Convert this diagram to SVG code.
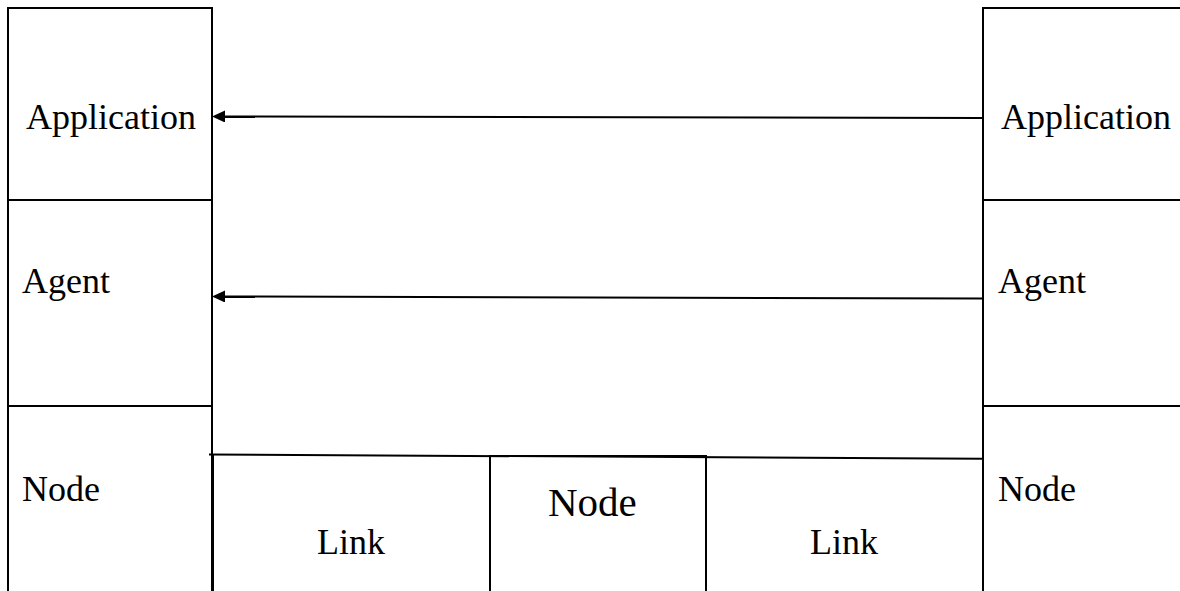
<svg xmlns="http://www.w3.org/2000/svg" width="1180" height="591" viewBox="0 0 1180 591">
  <style>
    .ln { fill: none; stroke: #000; stroke-width: 2; }
    .lbl { font-family: "Liberation Serif", "Times New Roman", serif; font-size: 36px; fill: #000; }
    .big { font-size: 41px; }
  </style>
  <defs>
    <marker id="head" viewBox="0 0 13 12" refX="0" refY="6" markerWidth="13" markerHeight="12" markerUnits="userSpaceOnUse" orient="auto-start-reverse">
      <path d="M0,0 L13,6 L0,12 Z" fill="#000"/>
    </marker>
  </defs>
  <rect width="1180" height="591" fill="#fff"/>

  <!-- left protocol stack -->
  <g id="left-stack">
    <path class="ln" d="M8,591 V8 H212 V591"/>
    <line class="ln" x1="8" y1="200" x2="212" y2="200"/>
    <line class="ln" x1="8" y1="406" x2="212" y2="406"/>
  </g>
  <g id="left-application"><text class="lbl" x="26" y="129">Application</text></g>
  <g id="left-agent"><text class="lbl" x="22" y="293">Agent</text></g>
  <g id="left-node"><text class="lbl" x="22" y="501">Node</text></g>

  <!-- right protocol stack -->
  <g id="right-stack">
    <path class="ln" d="M1180,8 H983 V591"/>
    <line class="ln" x1="983" y1="200" x2="1180" y2="200"/>
    <line class="ln" x1="983" y1="406" x2="1180" y2="406"/>
  </g>
  <g id="right-application"><text class="lbl" x="1001" y="129">Application</text></g>
  <g id="right-agent"><text class="lbl" x="998" y="293">Agent</text></g>
  <g id="right-node"><text class="lbl" x="998" y="501">Node</text></g>

  <!-- network path: links and intermediate node -->
  <g id="left-link">
    <line class="ln" x1="213" y1="455" x2="213" y2="591"/>
    <text class="lbl" x="317" y="554">Link</text>
  </g>
  <g id="middle-node">
    <path class="ln" d="M490,591 V456 H706 V591"/>
    <text class="lbl big" x="548" y="516">Node</text>
  </g>
  <g id="right-link">
    <text class="lbl" x="810" y="554">Link</text>
  </g>

  <!-- connectors -->
  <g id="connectors">
    <line class="ln" x1="983" y1="118" x2="225" y2="116.5" marker-end="url(#head)"/>
    <line class="ln" x1="983" y1="298.5" x2="225" y2="296.5" marker-end="url(#head)"/>
    <line class="ln" x1="209" y1="454.5" x2="983" y2="458.7"/>
  </g>
</svg>
